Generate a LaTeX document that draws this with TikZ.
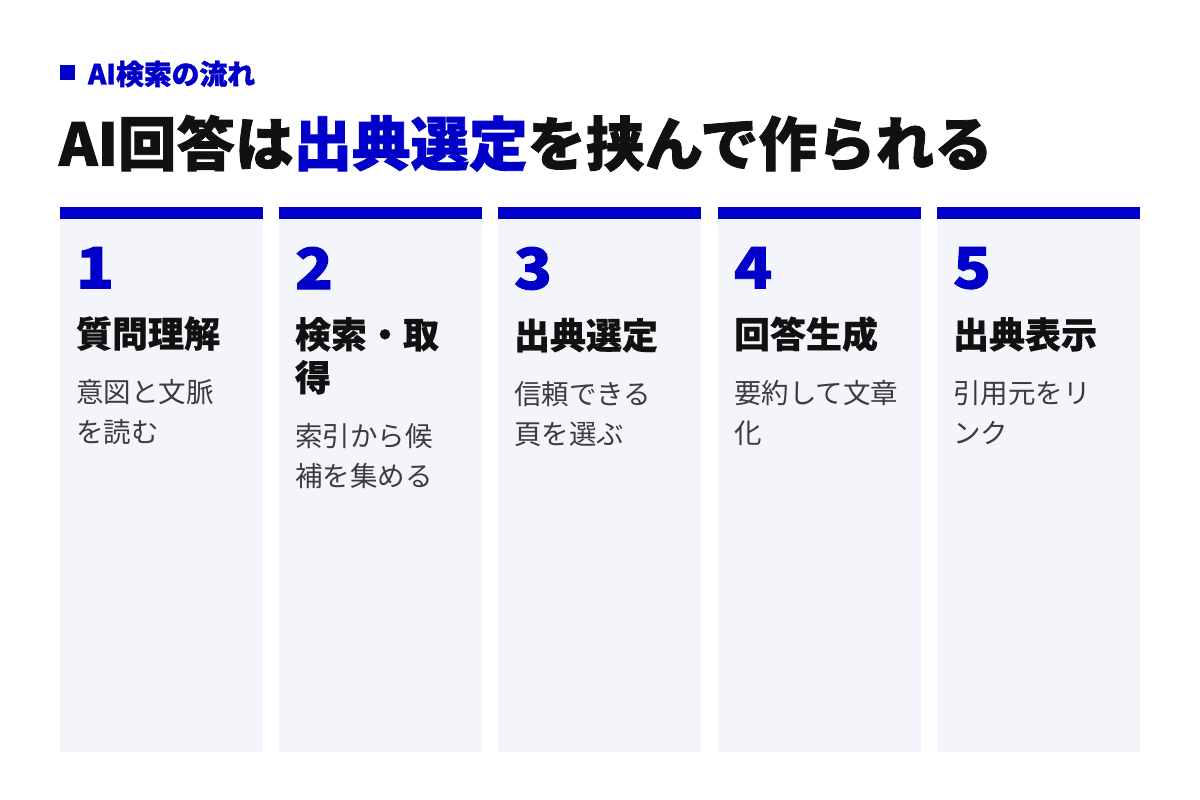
\documentclass[tikz,border=0pt]{standalone}
\usepackage{fontspec}
\setmainfont{Noto Sans CJK JP}
\newfontfamily\heavyfont{Noto Sans CJK JP}[FakeBold=1.4]
\newfontfamily\numfont{Noto Sans CJK JP}[FakeBold=1.6, FakeStretch=1.1]
\newfontfamily\headfont{Noto Sans CJK JP}[FakeBold=0.5]
\usetikzlibrary{positioning}
\definecolor{accent}{RGB}{0,0,200}
\definecolor{panel}{RGB}{244,245,250}
\definecolor{ink}{RGB}{17,17,17}
\definecolor{subink}{RGB}{60,60,60}
\tikzset{
    every node/.style={inner sep=0pt, outer sep=0pt}, % Tight boxes
    card/.style={anchor=north west, fill=panel, minimum width=203pt, minimum height=533pt},
    bar/.style={anchor=south west, fill=accent, minimum width=203pt, minimum height=12pt},
    num/.style={anchor=north west, text=accent, font=\numfont\bfseries\fontsize{57pt}{57pt}\selectfont},
    head/.style={align=left, text=ink, font=\headfont\bfseries\fontsize{36pt}{43pt}\selectfont},
    body/.style={align=left, text=subink, font=\fontsize{27.5pt}{40pt}\selectfont},
}
\begin{document}
\begin{tikzpicture}[x=1pt, y=-1pt]
    \useasboundingbox (0,0) rectangle (1200,800);

    \node[anchor=north west, fill=accent, minimum size=15pt] (tag) at (60,65) {};
    \node[right=13pt of tag, yshift=-1.5pt, text=accent, font=\heavyfont\bfseries\fontsize{27.8pt}{27.8pt}\selectfont] (kicker) {AI検索の流れ};
    \node[anchor=north west, text=ink, font=\heavyfont\bfseries\fontsize{58.5pt}{58.5pt}\selectfont] (title) at (59,115)
        {AI回答は\textcolor{accent}{出典選定}を挟んで作られる};

    \node[card] (card1) at (60,219) {};
    \node[card] (card2) at (279,219) {};
    \node[card] (card3) at (498,219) {};
    \node[card] (card4) at (718,219) {};
    \node[card] (card5) at (937,219) {};

    \node[bar] (bar1) at (card1.north west) {};
    \node[bar] (bar2) at (card2.north west) {};
    \node[bar] (bar3) at (card3.north west) {};
    \node[bar] (bar4) at (card4.north west) {};
    \node[bar] (bar5) at (card5.north west) {};

    \node[num] (num1) at ([xshift=16pt, yshift=-28pt]card1.north west) {1};
    \node[num] (num2) at ([xshift=16pt, yshift=-28pt]card2.north west) {2};
    \node[num] (num3) at ([xshift=16pt, yshift=-28pt]card3.north west) {3};
    \node[num] (num4) at ([xshift=16pt, yshift=-28pt]card4.north west) {4};
    \node[num] (num5) at ([xshift=16pt, yshift=-28pt]card5.north west) {5};

    \node[head, below=28pt of num1.south west, anchor=north west] (head1) {質問理解};
    \node[head, below=28pt of num2.south west, anchor=north west] (head2) {検索・取\\得};
    \node[head, below=28pt of num3.south west, anchor=north west] (head3) {出典選定};
    \node[head, below=28pt of num4.south west, anchor=north west] (head4) {回答生成};
    \node[head, below=28pt of num5.south west, anchor=north west] (head5) {出典表示};

    \node[body, below=29pt of head1.south west, anchor=north west] (body1) {意図と文脈\\を読む};
    \node[body, below=29pt of head2.south west, anchor=north west] (body2) {索引から候\\補を集める};
    \node[body, below=29pt of head3.south west, anchor=north west] (body3) {信頼できる\\頁を選ぶ};
    \node[body, below=29pt of head4.south west, anchor=north west] (body4) {要約して文章\\化};
    \node[body, below=29pt of head5.south west, anchor=north west] (body5) {引用元をリ\\ンク};
\end{tikzpicture}
\end{document}
